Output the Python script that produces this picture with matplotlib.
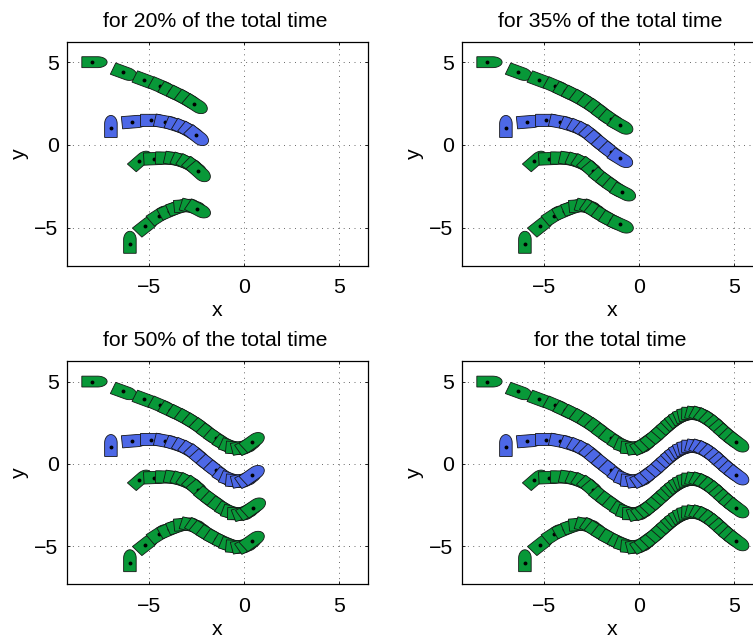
import numpy as np
import matplotlib
matplotlib.use("Agg")
from matplotlib import pyplot as plt
from matplotlib.patches import Polygon

plt.rcParams["font.family"] = ["Liberation Sans", "DejaVu Sans"]

GREEN = "#089838"
BLUE = "#4d68e6"

# Panel titles and how many poses of each vehicle are shown in them
titles = ["for 20% of the total time", "for 35% of the total time",
          "for 50% of the total time", "for the total time"]
pose_counts = [7, 11, 16, 35]

# Start poses (x, y, heading in degrees)
start_x = [-8.0, -7.02, -5.53, -6.02]
start_y = [5.0, 1.0, -1.0, -6.0]
start_heading = [0.0, 90.0, 45.0, 90.0]
vehicle_colors = [GREEN, BLUE, GREEN, GREEN]

# Poses along the trajectory
tail_x = [-2.25, -1.88, -1.5, -1.04, -0.72, -0.42, -0.12, 0.15, 0.38, 0.68, 0.98, 1.27, 1.53, 1.77,
          1.98, 2.18, 2.38, 2.58, 2.78, 3.0, 3.25, 3.5, 3.78, 4.05, 4.3, 4.55, 4.82, 5.1]

x1 = [-6.4, -5.26, -4.42, -3.9, -3.45, -3.03, -2.63] + tail_x
y1 = [4.4, 3.92, 3.55, 3.26, 3.02, 2.76, 2.48,
      2.18, 1.85, 1.55, 1.21, 1.05, 0.97, 1.0, 1.1, 1.3, 1.53, 1.83, 2.12, 2.38,
      2.6, 2.76, 2.89, 2.98, 3.04, 3.06, 3.03, 2.95, 2.8, 2.59, 2.34, 2.08, 1.83, 1.57, 1.33]

x2 = [-5.89, -4.91, -4.17, -3.58, -3.18, -2.85, -2.54] + tail_x
y2 = [1.39, 1.48, 1.39, 1.2, 1.03, 0.82, 0.58,
      0.28, -0.05, -0.4, -0.79, -0.95, -1.03, -1.0, -0.9, -0.7, -0.47, -0.17, 0.12, 0.38,
      0.6, 0.76, 0.89, 0.98, 1.04, 1.06, 1.03, 0.95, 0.8, 0.59, 0.34, 0.08, -0.17, -0.43, -0.67]

x3 = [-4.74, -4.12, -3.65, -3.27, -2.95, -2.65, -2.42, -2.02, -1.65, -1.3, -0.91, -0.62, -0.33,
      -0.05, 0.2, 0.44] + tail_x[9:]
y3 = [-0.83, -0.8, -0.85, -0.97, -1.12, -1.33, -1.58,
      -1.98, -2.28, -2.57, -2.84, -2.97, -3.03, -2.98, -2.85, -2.67, -2.47, -2.17, -1.88, -1.62,
      -1.4, -1.24, -1.11, -1.02, -0.96, -0.94, -0.97, -1.05, -1.2, -1.41, -1.66, -1.92, -2.17, -2.43, -2.67]

x4 = [-5.23, -4.51, -3.95, -3.5, -3.15, -2.8, -2.49] + tail_x
y4 = [-4.93, -4.28, -3.98, -3.78, -3.68, -3.72, -3.86,
      -4.05, -4.3, -4.55, -4.8, -4.95, -5.03, -5.0, -4.9, -4.7, -4.47, -4.17, -3.88, -3.62,
      -3.4, -3.24, -3.11, -3.02, -2.96, -2.94, -2.97, -3.05, -3.2, -3.41, -3.66, -3.92, -4.17, -4.43, -4.67]

xs = [x1, x2, x3, x4]
ys = [y1, y2, y3, y4]


def vehicle_outline(half_width):
    # Bullet shape in the vehicle frame: flat back, elliptic nose
    t = np.linspace(-np.pi / 2, np.pi / 2, 25)
    nose_x = 0.28 + 0.5 * np.cos(t)
    nose_y = half_width * np.sin(t)
    px = np.concatenate([[-0.55], nose_x, [-0.55]])
    py = np.concatenate([[-half_width], nose_y, [half_width]])
    return px, py


def draw_vehicle(ax, x, y, heading, color, z, half_width):
    px, py = vehicle_outline(half_width)
    c, s = np.cos(heading), np.sin(heading)
    corners = np.column_stack([x + c * px - s * py, y + s * px + c * py])
    ax.add_patch(Polygon(corners, closed=True, facecolor=color, edgecolor="#151515",
                         linewidth=0.6, zorder=z))
    ax.plot([x], [y], "o", color="black", markersize=2.8, markeredgewidth=0, zorder=z + 0.5)


def main():
    fig = plt.figure(figsize=(7.53, 6.42), dpi=100)
    width_px, height_px = 753.0, 642.0

    lefts = [67, 462, 67, 462]
    tops = [41.5, 41.5, 361, 361]
    bottoms = [265.7, 265.7, 584, 584]

    for i in range(4):
        ax = fig.add_axes([lefts[i] / width_px, 1 - bottoms[i] / height_px,
                           300.5 / width_px, (bottoms[i] - tops[i]) / height_px])
        ax.set_xlim(-9.33, 6.48)
        ax.set_ylim(-7.3, 6.25)
        ax.set_xticks([-5, 0, 5])
        ax.set_yticks([-5, 0, 5])
        ax.tick_params(direction="in", top=True, right=True, length=2.5, width=0.6,
                       labelsize=15.3, pad=6)
        ax.tick_params(axis="x", pad=9)
        ax.grid(True, color="#333333", linewidth=0.6, linestyle=(0, (1, 5.5)))
        ax.set_axisbelow(True)
        for spine in ax.spines.values():
            spine.set_linewidth(0.9)
        ax.set_title(titles[i], fontsize=15.3, pad=10.5, x=0.493)
        ax.set_xlabel("x", fontsize=15.3, labelpad=3)
        ax.set_ylabel("y", fontsize=15.3, labelpad=4)

        for k in range(4):
            x = np.array(xs[k])
            y = np.array(ys[k])
            # Headings follow the path in data coordinates
            heading = np.arctan2(np.gradient(y), np.gradient(x))
            draw_vehicle(ax, start_x[k], start_y[k], np.deg2rad(start_heading[k]),
                         vehicle_colors[k], 3, 0.33)
            for n in range(pose_counts[i]):
                draw_vehicle(ax, x[n], y[n], heading[n], vehicle_colors[k], 4 + n, 0.37)

    fig.savefig("out.png", dpi=100)
    return 0


if __name__ == "__main__":
    main()
